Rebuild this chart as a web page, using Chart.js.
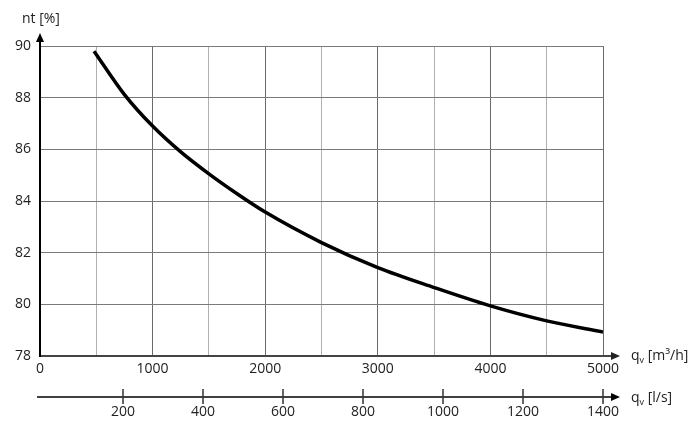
<!DOCTYPE html>
<html>
<head>
<meta charset="utf-8">
<script src="https://cdn.jsdelivr.net/npm/chart.js@4"></script>
<style>
html,body{margin:0;padding:0;background:#fff;}
#wrap{width:700px;height:433px;}
</style>
</head>
<body>
<div id="wrap"><canvas id="c" width="700" height="433"></canvas></div>
<script>
// Data
const flowM3h = [480, 750, 1000, 1250, 1500, 1750, 2000, 2500, 3000, 3500, 4000, 4500, 5000];
const efficiency = [89.8, 88.12, 86.9, 85.9, 85.05, 84.28, 83.57, 82.39, 81.42, 80.65, 79.94, 79.36, 78.93];
const yTicks = [78, 80, 82, 84, 86, 88, 90];
const xTicksM3h = [0, 500, 1000, 1500, 2000, 2500, 3000, 3500, 4000, 4500, 5000];
const xTicksLs = [200, 400, 600, 800, 1000, 1200, 1400];
const yTitle = 'nt [%]';
const xUnitM3h = ' [m³/h]';
const xUnitLs = ' [l/s]';

const FONT = '"Open Sans", "Liberation Sans", sans-serif';
const TXT = '#222';

const arrowPlugin = {
  id: 'arrows',
  afterDraw(chart) {
    const ctx = chart.ctx;
    const ca = chart.chartArea;
    const x2 = chart.scales.x2;
    ctx.save();
    ctx.fillStyle = '#000';
    ctx.strokeStyle = '#000';
    // y arrow
    ctx.lineWidth = 2;
    ctx.beginPath(); ctx.moveTo(ca.left, ca.top); ctx.lineTo(ca.left, ca.top - 6); ctx.stroke();
    ctx.beginPath(); ctx.moveTo(ca.left, ca.top - 13); ctx.lineTo(ca.left - 4, ca.top - 4); ctx.lineTo(ca.left + 4, ca.top - 4); ctx.closePath(); ctx.fill();
    // x arrow
    ctx.strokeStyle = '#444';
    ctx.beginPath(); ctx.moveTo(ca.right, ca.bottom); ctx.lineTo(ca.right + 9, ca.bottom); ctx.stroke();
    ctx.fillStyle = '#222';
    ctx.beginPath(); ctx.moveTo(ca.right + 17, ca.bottom); ctx.lineTo(ca.right + 8, ca.bottom - 4); ctx.lineTo(ca.right + 8, ca.bottom + 4); ctx.closePath(); ctx.fill();
    // secondary axis line
    const yl = x2.top;
    ctx.strokeStyle = '#000'; ctx.fillStyle = '#000';
    ctx.lineWidth = 1.5;
    ctx.beginPath(); ctx.moveTo(ca.left - 3, yl); ctx.lineTo(ca.right + 9, yl); ctx.stroke();
    ctx.beginPath(); ctx.moveTo(ca.right + 17, yl); ctx.lineTo(ca.right + 8, yl - 4); ctx.lineTo(ca.right + 8, yl + 4); ctx.closePath(); ctx.fill();
    ctx.lineWidth = 1.5;
    ctx.strokeStyle = '#333';
    xTicksLs.forEach(v => {
      const px = x2.getPixelForValue(v);
      ctx.beginPath(); ctx.moveTo(px, yl - 8); ctx.lineTo(px, yl + 7); ctx.stroke();
    });
    // labels
    ctx.fillStyle = TXT;
    ctx.font = '14px ' + FONT;
    ctx.textBaseline = 'alphabetic';
    ctx.textAlign = 'left';
    ctx.fillText(yTitle, 22, 23);
    function qLabel(x, y, unit) {
      ctx.font = '14px ' + FONT;
      ctx.fillText('q', x, y);
      const w = ctx.measureText('q').width;
      ctx.font = '9px ' + FONT;
      ctx.fillText('v', x + w, y + 3);
      const w2 = ctx.measureText('v').width;
      ctx.font = '14px ' + FONT;
      ctx.fillText(unit, x + w + w2, y);
    }
    qLabel(631, ca.bottom + 4, xUnitM3h);
    qLabel(631, yl + 5, xUnitLs);
    ctx.restore();
  }
};

new Chart(document.getElementById('c'), {
  type: 'line',
  data: {
    datasets: [{
      data: flowM3h.map((x, i) => ({x: x, y: efficiency[i]})),
      borderColor: '#000',
      borderWidth: 3.5,
      pointRadius: 0,
      fill: false,
      cubicInterpolationMode: 'monotone',
      xAxisID: 'x',
      yAxisID: 'y'
    }]
  },
  options: {
    responsive: false,
    animation: false,
    devicePixelRatio: 1,
    layout: { padding: { top: 46, right: 97, left: 0, bottom: 0 } },
    plugins: { legend: { display: false }, tooltip: { enabled: false }, title: { display: false } },
    scales: {
      x: {
        type: 'linear', position: 'bottom', min: 0, max: 5000, weight: 0,
        afterFit(s) { s.height = 41; },
        afterBuildTicks(s) { s.ticks = xTicksM3h.map(v => ({value: v})); },
        grid: {
          drawTicks: false,
          color: c => (c.tick && c.tick.value % 1000 === 0) ? '#6a6a6a' : '#b0b0b0',
          lineWidth: 1
        },
        border: { display: true, color: '#444', width: 2 },
        ticks: {
          padding: 5, color: TXT, font: { family: FONT, size: 14 }, maxRotation: 0, autoSkip: false,
          callback: v => (v % 1000 === 0) ? String(v) : ''
        }
      },
      x2: {
        type: 'linear', position: 'bottom', min: -7.5, max: 1400, weight: 1,
        afterFit(s) { s.height = 36; },
        afterBuildTicks(s) { s.ticks = xTicksLs.map(v => ({value: v})); },
        grid: { display: false, drawOnChartArea: false, drawTicks: false },
        border: { display: false },
        ticks: { padding: 7, color: TXT, font: { family: FONT, size: 14 }, maxRotation: 0, autoSkip: false,
          callback: v => String(v) }
      },
      y: {
        type: 'linear', position: 'left', min: 78, max: 90,
        afterFit(s) { s.width = 40; },
        afterBuildTicks(s) { s.ticks = yTicks.map(v => ({value: v})); },
        grid: { drawTicks: false, color: '#7a7a7a', lineWidth: 1 },
        border: { display: true, color: '#000', width: 2 },
        ticks: { padding: 9, color: TXT, font: { family: FONT, size: 14 } }
      }
    }
  },
  plugins: [arrowPlugin]
});
</script>
</body>
</html>
